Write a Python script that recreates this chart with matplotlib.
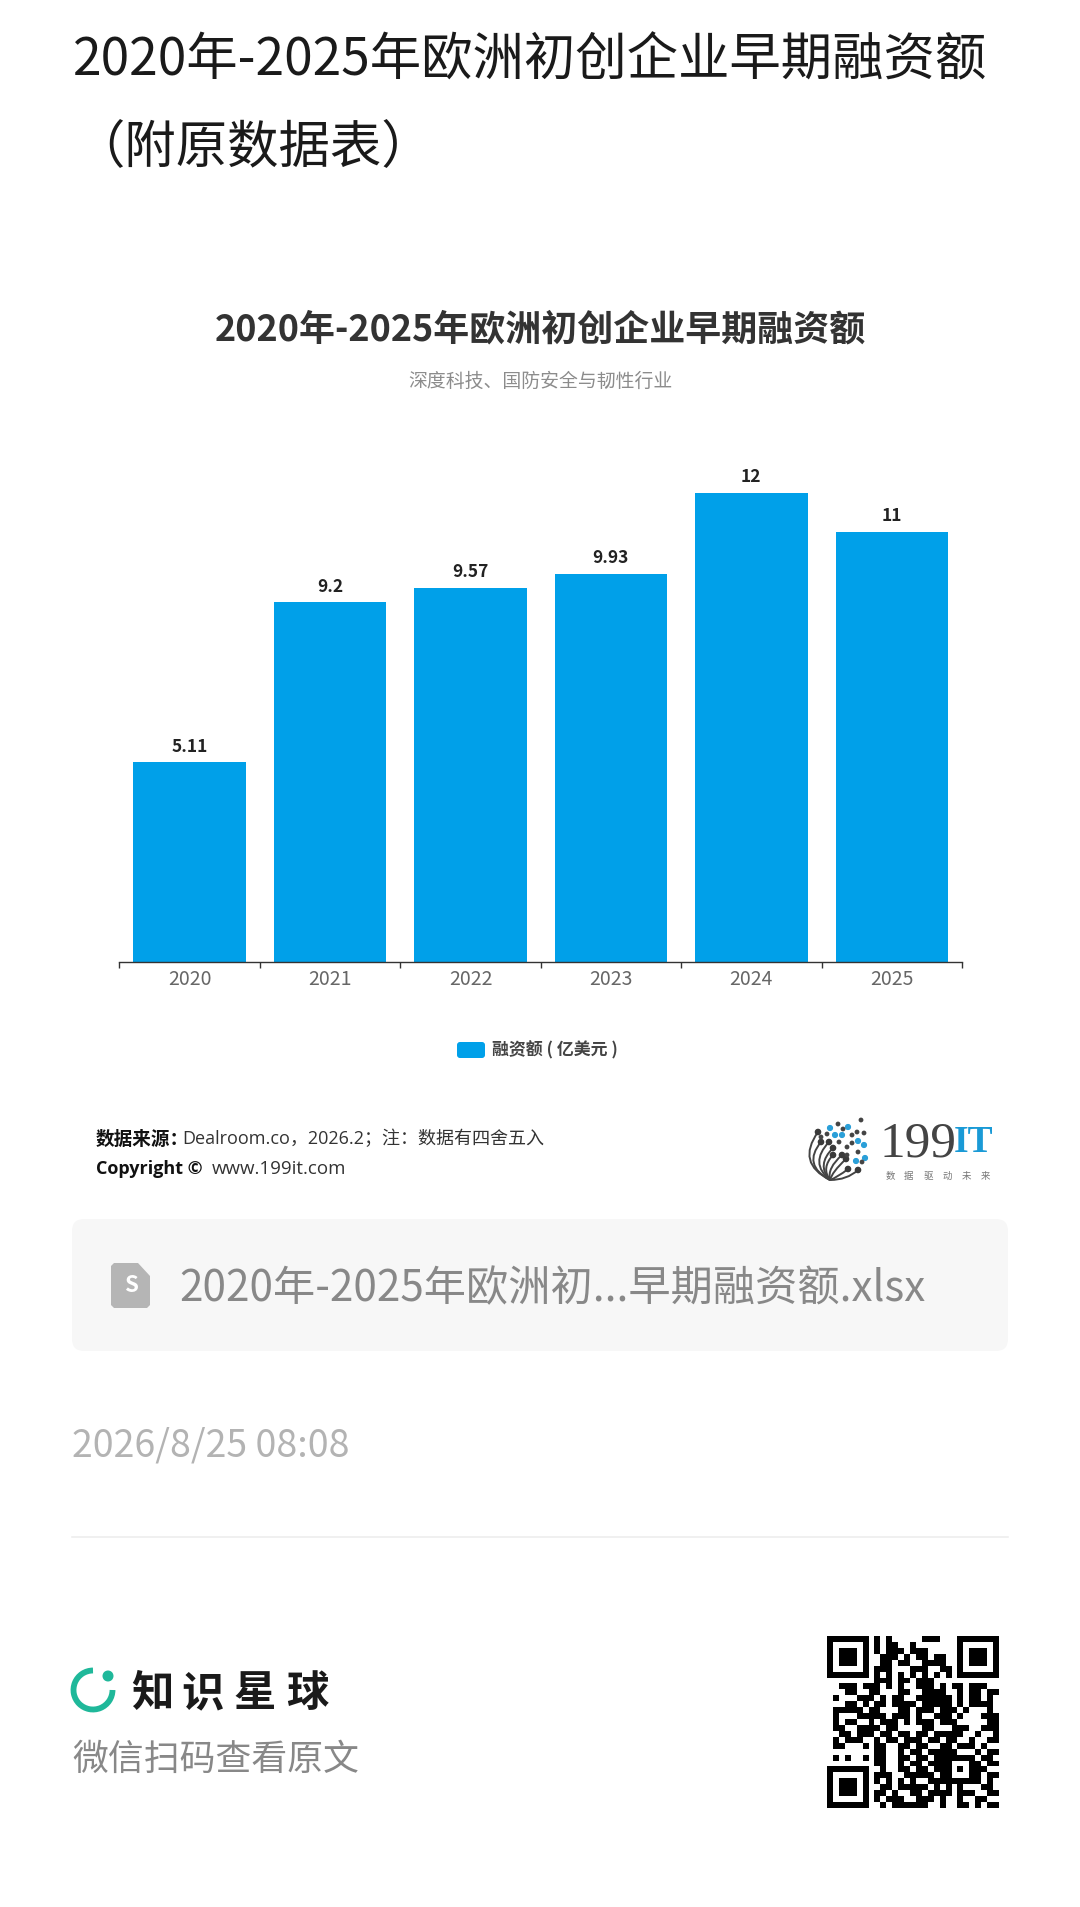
import numpy as np
import matplotlib
matplotlib.use('Agg')
from matplotlib import pyplot as plt
from matplotlib.patches import Arc, Circle, FancyBboxPatch, PathPatch, Polygon
from matplotlib.path import Path

plt.rcParams['font.family'] = ['Noto Sans CJK SC', 'DejaVu Sans']

# chart data
years = ['2020', '2021', '2022', '2023', '2024', '2025']
funding = [5.11, 9.2, 9.57, 9.93, 12, 11]
funding_labels = ['5.11', '9.2', '9.57', '9.93', '12', '11']

page_title = ['2020年-2025年欧洲初创企业早期融资额', '（附原数据表）']
chart_title = '2020年-2025年欧洲初创企业早期融资额'
chart_subtitle = '深度科技、国防安全与韧性行业'
legend_label = '融资额 ( 亿美元 )'
file_name = '2020年-2025年欧洲初...早期融资额.xlsx'
post_date = '2026/8/25 08:08'

qr_rows = [
    '11111110101000001110001111111',
    '10000010101100100000001000001',
    '10111010101110111000001011101',
    '10111010011101011011001011101',
    '10111010011011001111001011101',
    '10000010111000111001101000001',
    '11111110101010101010101111111',
    '00000000111011011100000000000',
    '00111011101010011101011011100',
    '00011001100011001111001011011',
    '01000111010110011111101011010',
    '00011010110111101111101011110',
    '01111101100011011101110100010',
    '01000111110111010011101000111',
    '01011001011101011101110000011',
    '01100111101100001100011100111',
    '00110111011011011011111001001',
    '01011100101101110110110010011',
    '01100010110011011001101110100',
    '00000000110010110111110001011',
    '01010010110011011011111110110',
    '00000000110010110111100011011',
    '11111110010011011011101011100',
    '10000010111001111101100011011',
    '10111010101010100111111111010',
    '10111010011011111010101000110',
    '10111010110100110111101110011',
    '10000010101110011101001001100',
    '11111110010111111001001101011',
]

# 199IT logo marks, in pixels of the page
logo_blue = [(830, 1128), (848, 1127), (842, 1135), (835, 1135), (864, 1145), (856, 1161), (865, 1158), (858, 1141)]
logo_dark = [(838, 1124), (861, 1120), (843, 1129), (852, 1135), (857, 1132), (864, 1133), (827, 1134), (839, 1142),
             (852, 1143), (847, 1147), (858, 1152), (847, 1155), (862, 1162), (821, 1137)]
logo_fan = [(818, 1132), (821, 1142), (829, 1142), (833, 1148), (833, 1155), (842, 1155), (846, 1159), (848, 1169), (858, 1170)]
logo_bend = [(796, 1163), (802, 1165), (809, 1163), (816, 1165), (821, 1168), (827, 1168), (832, 1172), (838, 1177), (847, 1180)]
logo_root = (830, 1180)

fig = plt.figure(figsize=(10.8, 19.07), dpi=100, facecolor='white')

page = fig.add_axes([0, 0, 1, 1])
page.axis('off')


def write(x, y, s, size, color='#222222', weight='normal', ha='left', family=None):
    return page.text(x, y, s, fontsize=size, color=color, fontweight=weight, ha=ha, va='center',
                     family=family or plt.rcParams['font.family'])


# page header
write(73, 61, page_title[0], 37, '#1a1a1a')
write(73, 148, page_title[1], 37, '#1a1a1a')

# chart titles
write(540, 330, chart_title, 25.9, '#333333', 'bold', 'center')
write(540.5, 381, chart_subtitle, 13.6, '#8c8c8c', ha='center')

# source block
latin = ['Open Sans', 'Noto Sans CJK SC']
write(96, 1139, '数据来源：', 13.4, '#111111', 'bold')
write(182, 1139, 'Dealroom.co，2026.2；注：数据有四舍五入', 13, '#333333', family=latin)
write(96, 1169, 'Copyright ©', 13, '#111111', 'bold', family=latin)
write(212, 1169, 'www.199it.com', 13.5, '#333333', family=latin)

# logo
for (x, y), bend in zip(logo_fan, logo_bend):
    verts = [(x, y), bend, logo_root]
    page.add_patch(PathPatch(Path(verts, [Path.MOVETO, Path.CURVE3, Path.CURVE3]), fc='none', ec='#444444', lw=1.4))
    page.add_patch(Circle((x, y), 2.6, color='#3a3a3a'))
for x, y in logo_blue:
    page.add_patch(Circle((x, y), 2.4, color='#2a9fd8'))
for x, y in logo_dark:
    page.add_patch(Circle((x, y), 1.7, color='#444444'))
serif = ['Liberation Serif']
write(880, 1144, '199', 37, '#444444', family=serif)
write(954, 1143, 'IT', 27, '#1a9ad6', family=serif, weight='bold')
for i, ch in enumerate('数据驱动未来'):
    write(890 + i * 19, 1176, ch, 6.8, '#777777', ha='center')

# attachment card
page.add_patch(FancyBboxPatch((84, 1231), 912, 108, boxstyle='round,pad=12,rounding_size=12', fc='#f7f7f7', ec='none'))
page.add_patch(Polygon([(114, 1263), (138, 1263), (150, 1276), (150, 1305), (147, 1308), (114, 1308), (111, 1305), (111, 1266)],
                       fc='#b5b5b5', ec='none'))
write(130.5, 1286, 'S', 16, 'white', 'bold', 'center')
write(179, 1289, file_name, 30.4, '#888888')

write(72, 1446, post_date, 27, '#b3b3b3')
page.plot([72, 1008], [1537, 1537], color='#eeeeee', lw=1.2)

# footer brand
page.add_patch(Arc((93, 1690), 39, 39, theta1=0, theta2=270, color='#1fb89a', lw=4.2))
page.add_patch(Circle((108, 1676), 4.8, color='#1fb89a'))
for x, ch in zip([152, 202, 255, 307], '知识星球'):
    write(x, 1694, ch, 30.5, '#1a1a1a', 'bold', 'center')
write(72, 1760, '微信扫码查看原文', 25.8, '#888888')

# QR code
qr = np.array([[int(c) for c in row] for row in qr_rows])
page.imshow(1 - qr, cmap='gray', vmin=0, vmax=1, extent=(827, 999, 1808, 1636),
            interpolation='nearest', aspect='auto')

# legend swatch and text
page.add_patch(FancyBboxPatch((460, 1045), 22, 10, boxstyle='round,pad=3,rounding_size=3', fc='#00a0e9', ec='none'))
write(492, 1050, legend_label, 12.2, '#444444', 'bold')

page.set_xlim(0, 1080)
page.set_ylim(1907, 0)

# bar chart, placed to page pixels
left, right, top, bottom = 119.4, 962, 493, 962
ax = fig.add_axes([left / 1080, 1 - bottom / 1907, (right - left) / 1080, (bottom - top) / 1907])
ax.patch.set_alpha(0)
x_pos = np.arange(len(years))
bars = ax.bar(x_pos, funding, width=0.8, color='#00a0e9')
ax.set_xlim(-0.5, 5.5)
ax.set_ylim(0, 12)
for rect, label in zip(bars, funding_labels):
    ax.annotate(label, (rect.get_x() + rect.get_width() / 2, rect.get_height()), xytext=(0, 4.8), textcoords='offset points',
                ha='center', va='bottom', fontsize=12.5, fontweight='bold', color='#222222', annotation_clip=False)
for side in ['top', 'left', 'right']:
    ax.spines[side].set_visible(False)
ax.spines['bottom'].set_color('#333333')
ax.spines['bottom'].set_linewidth(1)
ax.yaxis.set_visible(False)
ax.set_xticks(x_pos)
ax.set_xticklabels(years, fontsize=14, color='#666666')
ax.tick_params(axis='x', which='major', length=0, pad=5)
ax.set_xticks(np.arange(-0.5, 6), minor=True)
ax.tick_params(axis='x', which='minor', length=4, width=1, color='#333333')

fig.savefig('out.png', dpi=100, facecolor='white')
